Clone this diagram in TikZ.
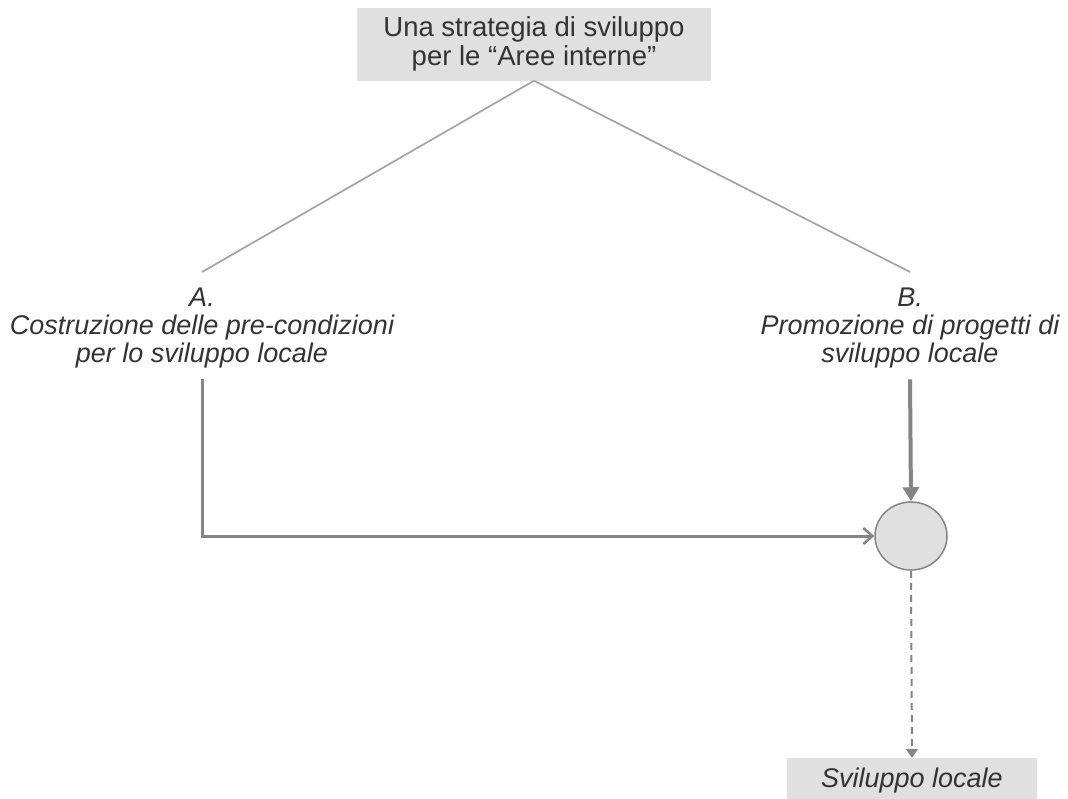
\documentclass[tikz,border=0pt]{standalone}
\usepackage{fontspec}
\setmainfont{Liberation Sans}
\usetikzlibrary{positioning, arrows.meta, shapes.geometric, calc}
\definecolor{boxGray}{HTML}{E0E0E0}
\definecolor{lineGray}{HTML}{A3A3A3}
\definecolor{arrGray}{HTML}{858585}
\definecolor{txtGray}{HTML}{333333}

\begin{document}
\begin{tikzpicture}[
    x=1pt, y=-1pt,
    >=Stealth,
    title/.style={fill=boxGray, minimum width=354pt, minimum height=73pt,
                  text=txtGray, align=center,
                  font=\fontsize{27.5}{28.5}\selectfont},
    branch/.style={align=center, text=txtGray, inner sep=11pt,
                   font=\fontsize{27}{28}\selectfont\itshape},
    hubnode/.style={ellipse, draw=arrGray, line width=1.5pt, fill=boxGray,
                    minimum width=72pt, minimum height=68pt},
    goalbox/.style={fill=boxGray, minimum width=250pt, minimum height=46pt,
                    text=txtGray, font=\fontsize{27}{28}\selectfont\itshape},
    tree/.style={lineGray, line width=1.7pt},
    flow/.style={arrGray, line width=3pt},
    done/.style={arrGray, line width=2pt, dashed, dash pattern=on 7pt off 5pt}
]
\useasboundingbox (0,0) rectangle (1068,798);

\node[title] (strat) at (534,44) {\raisebox{-2pt}{\parbox{340pt}{\centering Una strategia di sviluppo\\per le “Aree interne”}}};
\node[branch] (nA) at (202,328) {A.\\Costruzione delle pre-condizioni\\per lo sviluppo locale};
\node[branch] (nB) at (910,328) {B.\\Promozione di progetti di\\sviluppo locale};
\node[hubnode] (hub) at (911,536) {};
\node[goalbox] (goal) at (912,781) {Sviluppo locale};

% ---- the two branches ----
\coordinate (tipA) at (202,272);
\coordinate (tipB) at (910,272);
\draw[tree] (strat.south) -- (tipA);
\draw[tree] (strat.south) -- (tipB);

% ---- arrows into the hub ----
\draw[flow, -{Straight Barb[length=9pt, width=16pt, line width=2.5pt]}] (nA.south) |- (hub.west);
\draw[flow, line width=4pt, -{Triangle[length=14pt, width=16pt]}] (nB.south) -- (hub.north);
\draw[done, -{Triangle[length=9pt, width=12pt]}] (hub.south) -- (goal.north);
\end{tikzpicture}
\end{document}
